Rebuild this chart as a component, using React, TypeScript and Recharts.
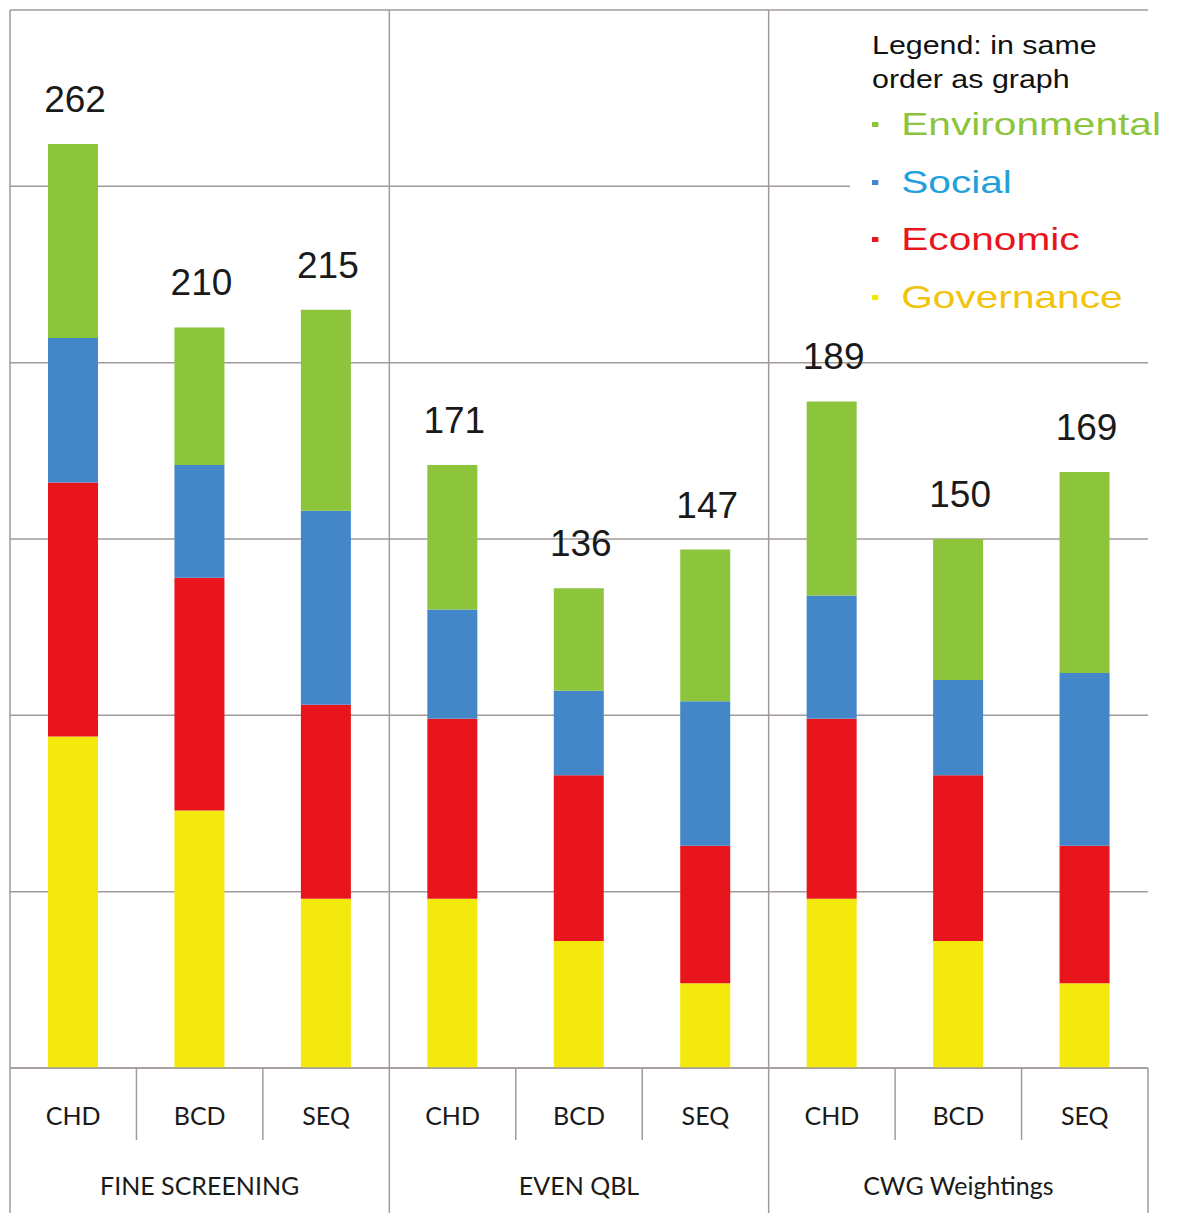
import { Bar, BarChart, CartesianGrid, LabelList, Legend, XAxis, YAxis } from 'recharts'

// values (bottom to top: governance, economic, social, environmental)
const categories = ['CHD', 'BCD', 'SEQ', 'CHD', 'BCD', 'SEQ', 'CHD', 'BCD', 'SEQ']
const groups = ['FINE SCREENING', 'EVEN QBL', 'CWG Weightings']
const governance = [94, 73, 48, 48, 36, 24, 48, 36, 24]
const economic = [72, 66, 55, 51, 47, 39, 51, 47, 39]
const social = [41, 32, 55, 31, 24, 41, 35, 27, 49]
const environmental = [55, 39, 57, 41, 29, 43, 55, 40, 57]
const yTicks = [0, 50, 100, 150, 200, 250, 300]
const legendOrder = ['Environmental', 'Social', 'Economic', 'Governance']

const COLORS: Record<string, string> = {
  Governance: '#f3e90c',
  Economic: '#e8151c',
  Social: '#4387c8',
  Environmental: '#8cc43c',
}
const LEGEND_TEXT: Record<string, string> = {
  Governance: '#f1c40a',
  Economic: '#e8151c',
  Social: '#22a0dc',
  Environmental: '#8cc43c',
}

const WIDTH = 1181
const HEIGHT = 1213
const MARGIN = { top: 10, right: 33, left: 10, bottom: 0 }
const AXIS_H = 145
const LINE = '#a39a9a'
const labelFont = 'Lato, "Open Sans", sans-serif'
const numberFont = '"Liberation Sans", Arial, sans-serif'

const data = categories.map((c, i) => ({
  key: `${groups[Math.floor(i / 3)]}-${c}-${i}`,
  governance: governance[i],
  economic: economic[i],
  social: social[i],
  environmental: environmental[i],
  total: governance[i] + economic[i] + social[i] + environmental[i],
}))

// category label + table cell borders; group borders run up through the plot
function CategoryTick(props: any) {
  const { x, y, index, payload } = props
  const half = payload?.offset ?? 63
  const pos = index % 3
  return (
    <g>
      <text x={x} y={y + 57} textAnchor="middle" fontFamily={labelFont} fontSize={25} fill="#1a1a1a">
        {categories[index]}
      </text>
      {pos !== 2 && <line x1={x + half} x2={x + half} y1={y} y2={y + 72} stroke={LINE} strokeWidth={1.5} />}
      {pos === 2 && index < 8 && (
        <line x1={x + half} x2={x + half} y1={MARGIN.top} y2={y + AXIS_H} stroke={LINE} strokeWidth={1.5} />
      )}
      {index === 8 && <line x1={x + half} x2={x + half} y1={y} y2={y + AXIS_H} stroke={LINE} strokeWidth={1.5} />}
      {index === 0 && (
        <line x1={x - half} x2={x - half} y1={MARGIN.top} y2={y + AXIS_H} stroke={LINE} strokeWidth={1.5} />
      )}
      {pos === 1 && (
        <text x={x} y={y + 127} textAnchor="middle" fontFamily={labelFont} fontSize={25} fill="#1a1a1a">
          {groups[Math.floor(index / 3)]}
        </text>
      )}
    </g>
  )
}

function TotalLabel(props: any) {
  const { x, y, width, value } = props
  return (
    <text x={x + width / 2 + 2} y={y - 32} textAnchor="middle" fontFamily={numberFont} fontSize={37} fill="#1a1a1a">
      {value}
    </text>
  )
}

function LegendBox({ payload }: any) {
  const byName: Record<string, string> = {}
  ;(payload ?? []).forEach((p: any) => {
    byName[p.value] = p.color
  })
  return (
    <div style={{ background: '#fff', paddingLeft: 22, paddingTop: 8, height: 302, boxSizing: 'border-box' }}>
      <div style={{ fontFamily: numberFont, transformOrigin: 'left top', transform: 'scaleX(1.27)' }}>
        <div style={{ fontSize: 26, lineHeight: '34px', color: '#111', transform: 'scaleX(0.92)', transformOrigin: 'left top' }}>
          Legend: in same
          <br />
          order as graph
        </div>
        {legendOrder.map((name) => (
          <div key={name} style={{ display: 'flex', alignItems: 'center', height: 57.5, fontSize: 32, color: LEGEND_TEXT[name] }}>
            <span style={{ width: 5, height: 5, background: byName[name] ?? COLORS[name], marginRight: 18 }} />
            {name}
          </div>
        ))}
      </div>
    </div>
  )
}

export default function App() {
  return (
    <div style={{ position: 'absolute', left: 0, top: 0, width: WIDTH, height: HEIGHT, background: '#fff' }}>
      <BarChart width={WIDTH} height={HEIGHT} data={data} margin={MARGIN} barSize={50}>
        <CartesianGrid vertical={false} stroke={LINE} strokeWidth={1.5} />
        <XAxis
          dataKey="key"
          height={AXIS_H}
          interval={0}
          tickLine={false}
          tickSize={0}
          tickMargin={0}
          axisLine={{ stroke: LINE, strokeWidth: 1.5 }}
          tick={<CategoryTick />}
        />
        <YAxis domain={[0, 300]} ticks={yTicks} hide />
        <Bar dataKey="governance" name="Governance" stackId="a" fill={COLORS.Governance} isAnimationActive={false} />
        <Bar dataKey="economic" name="Economic" stackId="a" fill={COLORS.Economic} isAnimationActive={false} />
        <Bar dataKey="social" name="Social" stackId="a" fill={COLORS.Social} isAnimationActive={false} />
        <Bar dataKey="environmental" name="Environmental" stackId="a" fill={COLORS.Environmental} isAnimationActive={false}>
          <LabelList dataKey="total" content={<TotalLabel />} />
        </Bar>
        <Legend
          layout="vertical"
          align="center"
          verticalAlign="middle"
          content={<LegendBox />}
          wrapperStyle={{ top: 20, left: 850, width: 331, height: 302 }}
        />
      </BarChart>
    </div>
  )
}
